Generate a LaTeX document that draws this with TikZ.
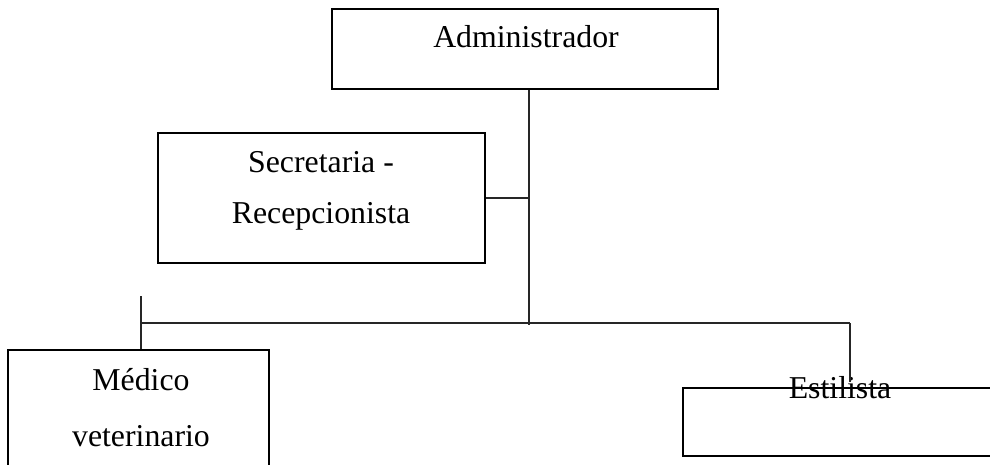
\documentclass[tikz,border=0pt]{standalone}
\usepackage{fontspec}
\setmainfont{Liberation Serif}
\tikzset{
  box/.style={draw, line width=2.8pt, inner sep=0pt},
  link/.style={draw, line width=1.2pt, black!85},
  caption/.style={font=\fontsize{31.8}{54}\selectfont, align=center, anchor=base, inner sep=0pt}
  }
\begin{document}
\begin{tikzpicture}[x=1pt, y=-1pt]

  % Page frame
  \useasboundingbox (0,0) rectangle (990,464);
  \clip (0,0) rectangle (990,464);

  % The boxes
  \node[box, minimum width=386pt, minimum height=80pt] (admin) at (525,49) {};
  \node[box, minimum width=327pt, minimum height=130pt] (sec) at (321.5,198) {};
  \node[box, minimum width=261pt, minimum height=150pt] (med) at (138.5,425) {};
  \node[box, minimum width=327pt, minimum height=68pt] (est) at (846.5,422) {};

  % Their texts (base = last line)
  \node[caption] (admin-text) at (526,47) {Administrador};
  \node[caption] (sec-text) at (321,223) {Secretaria -\\[-3pt]Recepcionista};
  \node[caption] (med-text) at (141,446) {Médico\\[2pt]veterinario};
  \node[caption] (est-text) at (840,398) {Estilista};

  % Points of the lines
  \coordinate (trunk) at (529,325);
  \coordinate (busleft) at (141,323);
  \coordinate (busright) at (850,323);
  \coordinate (medtop) at (141,296);
  \coordinate (estend) at (850,382);

  % The connections
  \path[link] (admin.south -| trunk) -- (trunk);
  \path[link] (sec.east) -- (sec.east -| trunk);
  \path[link] (busleft) -- (busright);
  \path[link] (medtop) -- (medtop |- med.north);
  \path[link] (busright) -- (estend);
\end{tikzpicture}
\end{document}
